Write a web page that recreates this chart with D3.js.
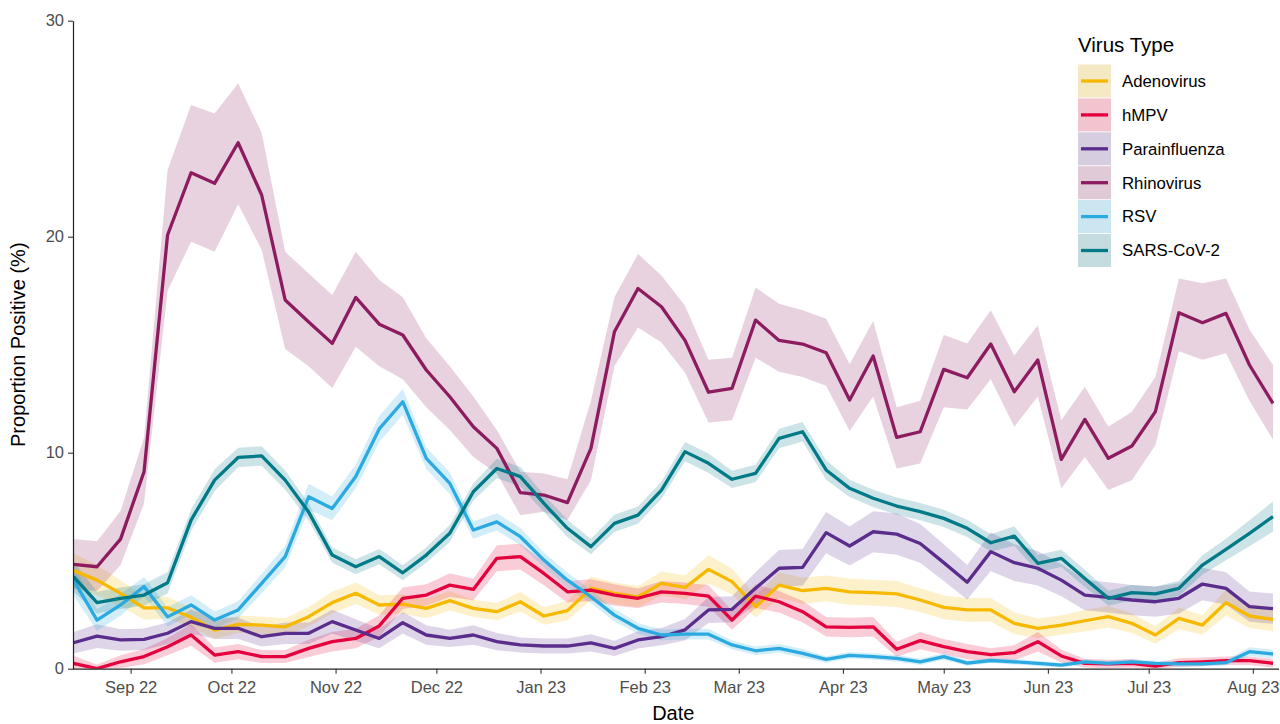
<!DOCTYPE html>
<html>
<head>
<meta charset="utf-8">
<script src="https://cdn.jsdelivr.net/npm/d3@7"></script>
<style>
  html, body { margin: 0; padding: 0; background: #ffffff; }
  svg { display: block; font-family: "Liberation Sans", Arial, Helvetica, sans-serif; }
</style>
</head>
<body>
<svg id="chart" width="1280" height="724"></svg>
<script>
// ---- Data (weekly, starting 15 Aug 2022, 52 weeks) ----
const firstWeek = "2022-08-15";
const weekCount = 52;

const viruses = ["Adenovirus", "hMPV", "Parainfluenza", "Rhinovirus", "RSV", "SARS-CoV-2"];
const colors  = ["#F6B900", "#E4003D", "#5A2C8C", "#8C1C5F", "#2AAAE0", "#007A87"];

const adenovirus = [4.54,4.1,3.49,2.82,2.82,2.38,1.79,2.05,2.02,1.94,2.41,3.06,3.49,2.95,2.99,2.79,3.15,2.79,2.64,3.1,2.44,2.69,3.72,3.49,3.33,3.95,3.76,4.6,4.03,2.87,3.87,3.61,3.72,3.56,3.52,3.46,3.18,2.84,2.72,2.72,2.1,1.87,2.02,2.22,2.41,2.1,1.56,2.33,2.02,3.06,2.44,2.28];
const adenovirusErr = [0.8,0.7,0.6,0.55,0.5,0.45,0.4,0.4,0.4,0.4,0.45,0.5,0.5,0.45,0.45,0.45,0.45,0.4,0.4,0.45,0.4,0.45,0.55,0.5,0.5,0.55,0.55,0.65,0.6,0.5,0.6,0.6,0.6,0.6,0.6,0.6,0.55,0.55,0.55,0.55,0.5,0.45,0.45,0.5,0.5,0.45,0.4,0.5,0.45,0.6,0.55,0.55];

const hmpv = [0.25,0.0,0.32,0.56,1.02,1.56,0.63,0.79,0.56,0.56,0.94,1.25,1.4,1.98,3.26,3.41,3.87,3.67,5.11,5.19,4.41,3.56,3.64,3.41,3.26,3.56,3.49,3.36,2.25,3.36,3.1,2.64,1.94,1.91,1.94,0.9,1.3,1.02,0.79,0.65,0.74,1.25,0.59,0.25,0.22,0.25,0.12,0.28,0.32,0.37,0.37,0.25];
const hmpvErr = [0.35,0.2,0.3,0.35,0.4,0.5,0.35,0.35,0.3,0.3,0.4,0.45,0.45,0.5,0.5,0.5,0.55,0.5,0.6,0.6,0.55,0.5,0.5,0.5,0.45,0.5,0.5,0.5,0.45,0.55,0.5,0.5,0.45,0.45,0.45,0.35,0.4,0.35,0.35,0.3,0.35,0.45,0.3,0.2,0.2,0.2,0.15,0.2,0.2,0.2,0.2,0.2];

const parainfluenza = [1.2,1.51,1.33,1.36,1.64,2.18,1.87,1.87,1.48,1.64,1.64,2.18,1.79,1.4,2.13,1.56,1.4,1.56,1.25,1.1,1.05,1.05,1.2,0.94,1.33,1.48,1.8,2.72,2.75,3.72,4.65,4.69,6.3,5.68,6.34,6.23,5.8,4.91,4.0,5.42,4.91,4.65,4.1,3.41,3.3,3.18,3.1,3.26,3.92,3.72,2.87,2.78];
const parainfluenzaErr = [0.5,0.55,0.5,0.5,0.5,0.55,0.5,0.5,0.45,0.5,0.5,0.55,0.5,0.45,0.5,0.45,0.4,0.45,0.4,0.35,0.35,0.35,0.4,0.35,0.4,0.4,0.5,0.6,0.6,0.75,0.85,0.85,0.95,0.9,0.95,0.95,0.9,0.85,0.8,0.9,0.85,0.8,0.75,0.7,0.7,0.7,0.7,0.7,0.75,0.75,0.7,0.7];

const rhinovirus = [4.83,4.72,6.0,9.12,20.08,22.96,22.47,24.35,21.93,17.07,16.05,15.06,17.19,15.95,15.45,13.83,12.59,11.2,10.2,8.15,8.04,7.69,10.2,15.6,17.6,16.76,15.2,12.8,12.98,16.14,15.2,15.03,14.63,12.44,14.48,10.71,10.97,13.86,13.47,15.03,12.82,14.29,9.69,11.54,9.74,10.31,11.9,16.48,16.02,16.45,14.06,12.28];
const rhinovirusLow = [3.7,3.6,4.8,7.65,17.5,19.77,19.3,21.5,19.4,14.8,14.0,13.0,14.9,14.0,13.4,12.1,11.05,9.8,9.04,7.1,7.27,6.88,8.73,14.0,15.8,15.1,13.7,11.4,11.5,14.4,13.75,13.5,13.1,11.0,12.6,9.27,9.5,12.1,12.0,13.4,11.2,12.6,8.35,9.8,8.27,8.73,10.35,14.7,14.3,14.6,12.4,10.6];
const rhinovirusHigh = [6.0,5.9,7.3,10.7,23.1,26.1,25.7,27.1,24.8,19.3,18.3,17.3,19.3,18.0,17.2,15.3,14.0,12.6,11.05,9.12,9.04,8.77,12.4,17.2,19.2,18.2,16.8,14.3,14.4,17.65,16.9,16.6,16.2,14.1,16.1,12.1,12.4,15.45,15.06,16.6,14.5,15.9,11.5,13.05,11.2,11.9,13.5,18.07,17.84,18.07,15.7,14.06];

const rsv = [4.1,2.25,2.95,3.8,2.4,2.95,2.25,2.72,3.95,5.19,7.96,7.42,8.9,11.1,12.36,9.74,8.58,6.42,6.8,6.11,5.03,4.1,3.33,2.48,1.87,1.56,1.6,1.6,1.1,0.83,0.94,0.71,0.43,0.62,0.56,0.48,0.32,0.56,0.26,0.38,0.32,0.25,0.17,0.32,0.25,0.32,0.25,0.22,0.22,0.28,0.79,0.68];
const rsvErr = [0.7,0.5,0.5,0.45,0.45,0.45,0.4,0.4,0.45,0.5,0.6,0.55,0.55,0.6,0.6,0.5,0.5,0.4,0.4,0.4,0.35,0.35,0.3,0.3,0.25,0.25,0.25,0.25,0.2,0.2,0.2,0.2,0.15,0.15,0.15,0.15,0.15,0.15,0.12,0.12,0.12,0.12,0.1,0.12,0.12,0.12,0.12,0.12,0.12,0.12,0.2,0.2];

const sars = [4.26,3.06,3.26,3.41,3.98,6.88,8.73,9.78,9.85,8.73,7.25,5.26,4.72,5.19,4.44,5.26,6.27,8.19,9.27,8.89,7.65,6.5,5.65,6.73,7.11,8.27,10.05,9.51,8.77,9.04,10.66,10.97,9.2,8.35,7.89,7.53,7.27,6.96,6.5,5.83,6.14,4.88,5.11,4.18,3.26,3.52,3.46,3.72,4.8,5.52,6.27,7.04];
const sarsErr = [0.7,0.5,0.5,0.5,0.5,0.5,0.5,0.45,0.45,0.45,0.4,0.35,0.35,0.35,0.35,0.35,0.4,0.4,0.45,0.45,0.4,0.4,0.35,0.4,0.4,0.4,0.45,0.45,0.4,0.4,0.45,0.45,0.45,0.4,0.4,0.4,0.4,0.4,0.4,0.4,0.45,0.4,0.4,0.4,0.35,0.35,0.35,0.35,0.45,0.5,0.6,0.7];

const yTicks = [0, 10, 20, 30];
const xTickFormat = "%b %y";

(function () {
  // ---- Build series ----
  const start = d3.timeParse("%Y-%m-%d")(firstWeek);
  const weeks = d3.range(weekCount).map(i => d3.timeDay.offset(start, 7 * i));

  function withErr(vals, err) {
    return { val: vals, lo: vals.map((v, i) => v - err[i]), hi: vals.map((v, i) => v + err[i]) };
  }
  const seriesData = [
    withErr(adenovirus, adenovirusErr),
    withErr(hmpv, hmpvErr),
    withErr(parainfluenza, parainfluenzaErr),
    { val: rhinovirus, lo: rhinovirusLow, hi: rhinovirusHigh },
    withErr(rsv, rsvErr),
    withErr(sars, sarsErr)
  ].map((s, k) => ({
    name: viruses[k],
    color: colors[k],
    points: weeks.map((d, i) => ({ date: d, v: s.val[i], lo: Math.max(0, s.lo[i]), hi: s.hi[i] }))
  }));

  // ---- Layout ----
  const svg = d3.select("#chart");
  const pL = 73.5, pR = 1273, pT = 20.7, pB = 668.7;

  const x = d3.scaleTime().domain([weeks[0], weeks[weeks.length - 1]]).range([pL, pR]);
  const y = d3.scaleLinear().domain([0, 30]).range([pB, pT]);

  svg.append("defs").append("clipPath").attr("id", "plotclip")
    .append("rect").attr("x", pL).attr("y", pT - 2).attr("width", pR - pL + 4).attr("height", pB - pT + 2);

  const plot = svg.append("g").attr("clip-path", "url(#plotclip)");

  const area = d3.area().x(d => x(d.date)).y0(d => y(d.lo)).y1(d => y(d.hi));
  const line = d3.line().x(d => x(d.date)).y(d => y(d.v));

  plot.selectAll("path.ribbon").data(seriesData).join("path")
    .attr("class", "ribbon")
    .attr("d", d => area(d.points))
    .attr("fill", d => d.color)
    .attr("fill-opacity", 0.2);

  plot.selectAll("path.line").data(seriesData).join("path")
    .attr("class", "line")
    .attr("d", d => line(d.points))
    .attr("fill", "none")
    .attr("stroke", d => d.color)
    .attr("stroke-width", 3.3)
    .attr("stroke-linejoin", "round");

  // ---- Axes ----
  const months = d3.timeMonth.range(d3.timeMonth.ceil(weeks[0]), d3.timeDay.offset(weeks[weeks.length - 1], 1));
  const xAxis = d3.axisBottom(x).tickValues(months).tickFormat(d3.timeFormat(xTickFormat))
    .tickSize(5).tickSizeOuter(0).tickPadding(4);
  const gx = svg.append("g").attr("transform", `translate(0,${pB})`).call(xAxis);
  gx.select(".domain").attr("d", `M${pL - 0.5},0.5H${pR + 6}`);

  const yAxis = d3.axisLeft(y).tickValues(yTicks).tickSize(5).tickSizeOuter(0).tickPadding(4);
  const gy = svg.append("g").attr("transform", `translate(${pL - 0.5},0)`).call(yAxis);

  [gx, gy].forEach(g => {
    g.select(".domain").attr("stroke", "#222").attr("stroke-width", 1.2);
    g.selectAll(".tick line").attr("stroke", "#333").attr("stroke-width", 1.1);
    g.selectAll(".tick text").attr("fill", "#4D4D4D").style("font-size", "16.5px")
      .style("font-family", "'Liberation Sans', Arial, sans-serif");
  });
  gx.selectAll(".tick text").attr("dy", "0.95em");

  svg.append("text").attr("x", (pL + pR) / 2).attr("y", 720)
    .attr("text-anchor", "middle").attr("font-size", 20).attr("fill", "#000").text("Date");

  svg.append("text").attr("transform", `translate(25,${(pT + pB) / 2}) rotate(-90)`)
    .attr("text-anchor", "middle").attr("font-size", 20).attr("fill", "#000").text("Proportion Positive (%)");

  // ---- Legend ----
  const legend = svg.append("g").attr("transform", "translate(1078,0)");
  legend.append("text").attr("x", 0).attr("y", 52).attr("font-size", 20.5).attr("fill", "#000").text("Virus Type");
  const items = legend.selectAll("g.item").data(seriesData).join("g")
    .attr("class", "item")
    .attr("transform", (d, i) => `translate(0,${64.5 + i * 33.9})`);
  items.append("rect").attr("x", 0).attr("y", 0).attr("width", 33).attr("height", 33)
    .attr("fill", "#f6f6f6");
  items.append("rect").attr("x", 0).attr("y", 0).attr("width", 33).attr("height", 33)
    .attr("fill", d => d.color).attr("fill-opacity", 0.2);
  items.append("line").attr("x1", 3).attr("x2", 30).attr("y1", 16.5).attr("y2", 16.5)
    .attr("stroke", d => d.color).attr("stroke-width", 3.3);
  items.append("text").attr("x", 44).attr("y", 16.5).attr("dy", "0.35em")
    .attr("font-size", 16.8).attr("fill", "#000").text(d => d.name);
})();
</script>
</body>
</html>
